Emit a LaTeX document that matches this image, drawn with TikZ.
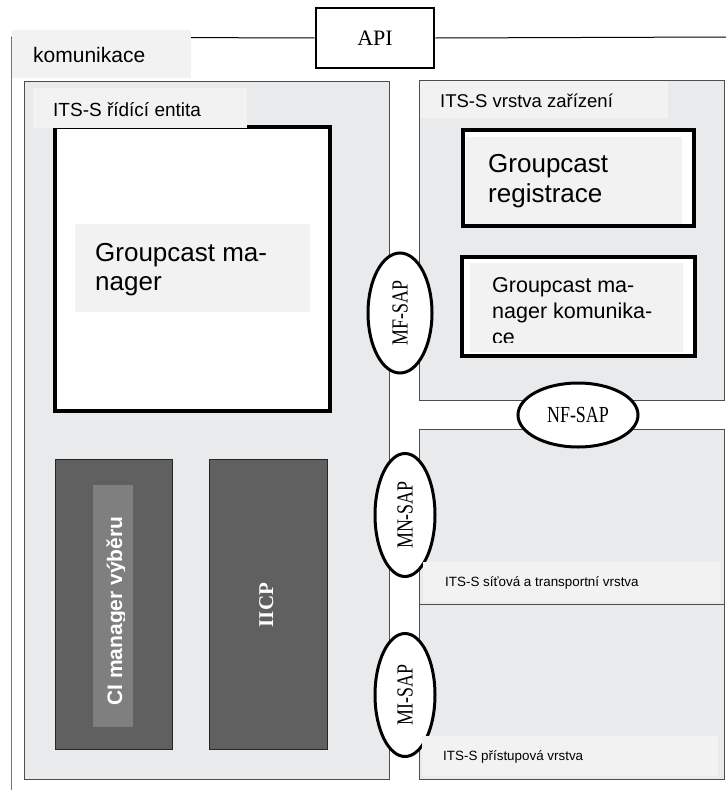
\documentclass[tikz,border=0pt]{standalone}
\usepackage{fontspec}
\usepackage{graphicx}
\setmainfont{Liberation Sans}
\newfontfamily\serifA{Liberation Serif}
\usetikzlibrary{shapes.geometric}
\definecolor{boxfill}{HTML}{E9EAEC}
\definecolor{labfill}{HTML}{F2F2F2}
\definecolor{darkfill}{HTML}{606060}
\definecolor{midfill}{HTML}{7F7F7F}
\definecolor{edgegray}{HTML}{4D4D4D}
\begin{document}
\begin{tikzpicture}[x=1pt,y=-1pt,
  area/.style={draw=edgegray, line width=1pt, fill=boxfill},
  lab/.style={fill=labfill, draw=none},
  heavybox/.style={draw=black, line width=4.5pt, fill=white},
  darkbox/.style={draw=black!85, line width=1pt, fill=darkfill},
  sap/.style={ellipse, draw=black, line width=3pt, fill=white, inner sep=0pt, font=\serifA\fontsize{23}{23}\selectfont},
  txt/.style={inner sep=0pt, anchor=base west, text=black},
]
\useasboundingbox[fill=white] (0,0) rectangle (726,790);

% frame lines
\coordinate (lt) at (11.5,37);
\coordinate (lb) at (11.5,790);
\coordinate (rt) at (726,37);
\node[draw=black, line width=2.8pt, fill=white, minimum width=118, minimum height=60, inner sep=0pt,
      font=\serifA\fontsize{22}{22}\selectfont] (api) at (375,38) {API};
\draw[black!55, line width=1pt] (lb) -- (lt);
\draw[black, line width=1pt] (lt) -- (api.west);
\draw[black, line width=1pt] (api.east) -- (rt);

% komunikace label
\fill[lab] (12,30) rectangle (191,78);
\node[txt, font=\fontsize{21}{21}\selectfont] (kom) at (33,62) {komunikace};

% left area
\draw[area] (24,81) rectangle (389,779);
\draw[heavybox] (55,127) rectangle (330,411);
\fill[lab] (75,224) rectangle (310,312);
\node[txt, anchor=north west, align=left, font=\fontsize{26}{29}\selectfont] (gm) at (95,243) {Groupcast ma-\\nager};
\fill[lab] (33,88) rectangle (247,128);
\node[txt, font=\fontsize{19}{19}\selectfont] (rie) at (53,116) {ITS-S řídící entita};

% dark boxes
\draw[darkbox] (55,459) rectangle (172,749);
\fill[midfill] (93,485) rectangle (133,727);
\begin{scope}
\clip (93,485) rectangle (124,727);
\node[rotate=90, anchor=base, inner sep=0pt, text=white, font=\bfseries\fontsize{21}{21}\selectfont] (ci) at (122,611) {CI manager výběru};
\end{scope}
\draw[darkbox] (209,459) rectangle (327,749);
\node[rotate=90, anchor=base, inner sep=0pt, text=white, font=\serifA\bfseries\fontsize{21}{21}\selectfont] (iicp) at (273,605) {IICP};

% right top area
\draw[area] (419,80) rectangle (724,400);
\fill[lab] (420,80.5) rectangle (668,118);
\node[txt, font=\fontsize{18.5}{18.5}\selectfont] (vz) at (440,107) {ITS-S vrstva zařízení};
\draw[heavybox] (463,130) rectangle (694,226);
\fill[lab] (466,137) rectangle (682,224);
\node[txt, anchor=north west, align=left, font=\fontsize{26}{30}\selectfont] (gr) at (488,154) {Groupcast\\registrace};
\draw[heavybox] (462,257) rectangle (695,356);
\fill[lab] (470,263) rectangle (683,352);
\begin{scope}
\clip (470,263) rectangle (683,342);
\node[txt, anchor=north west, align=left, font=\fontsize{21.5}{26}\selectfont] (gk) at (492,277.5) {Groupcast ma-\\nager komunika-\\ce};
\end{scope}

% right lower areas
\draw[area] (419,429) rectangle (724,604);
\draw[area] (419,604) rectangle (724,779);

% SAP ellipses
\node[sap, rotate=90, minimum width=120, minimum height=64] (mf) at (400,313) {\scalebox{0.78}[1]{MF-SAP}};
\node[sap, minimum width=120, minimum height=64] (nf) at (578,415) {\scalebox{0.78}[1]{NF-SAP}};
\node[sap, rotate=90, minimum width=123, minimum height=60] (mn) at (405,515) {\scalebox{0.78}[1]{MN-SAP}};
\node[sap, rotate=90, minimum width=123, minimum height=60] (mi) at (405,695) {\scalebox{0.78}[1]{MI-SAP}};

% bottom labels
\fill[lab] (423,562) rectangle (720,602);
\node[txt, font=\fontsize{13.4}{13.4}\selectfont] (st) at (445,586) {ITS-S síťová a transportní vrstva};
\fill[lab] (422,736) rectangle (718,776);
\node[txt, font=\fontsize{13.4}{13.4}\selectfont] (pv) at (443,760) {ITS-S přístupová vrstva};
\end{tikzpicture}
\end{document}
